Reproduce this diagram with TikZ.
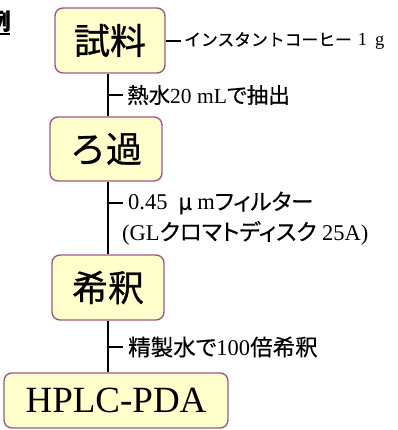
\documentclass[tikz,border=0pt]{standalone}
\usepackage{fontspec}
\setmainfont{Liberation Serif}
\newfontfamily\jp{Noto Sans CJK JP}[FakeBold=0.4,RawFeature=+palt]
\newfontfamily\jpfw{Noto Sans CJK JP}[FakeBold=0.6]
\newfontfamily\jpbig{Noto Sans CJK JP}[FakeBold=0.8]
\definecolor{boxfill}{HTML}{FFFFCC}
\definecolor{boxborder}{HTML}{9E5A86}
\begin{document}
\begin{tikzpicture}[x=1pt,y=-1pt,
  stepbox/.style={draw=boxborder, line width=1.4pt, fill=boxfill, rounded corners=8pt, inner sep=0pt},
  lab/.style={anchor=west, inner sep=0pt, font=\fontsize{21.5}{24}\selectfont},
  labb/.style={anchor=west, inner sep=0pt, font=\fontsize{22.5}{24}\selectfont},
  conn/.style={line width=1.2pt, black}]
\useasboundingbox (0,0) rectangle (397,430);
\clip (0,0) rectangle (397,430);
% partial heading at top-left
\node[anchor=east, inner sep=0pt, font=\jp\bfseries\fontsize{23}{25}\selectfont] (hd) at (11,21) {例};
\draw[line width=1.5pt] (0,34) coordinate (u1) -- (10,34) coordinate (u2);
% boxes
\node[stepbox, minimum width=110pt, minimum height=65pt, font=\jpbig\fontsize{36}{40}\selectfont] (b1) at (110,40.5) {試料};
\node[stepbox, minimum width=112pt, minimum height=64pt, font=\jpbig\fontsize{36}{40}\selectfont] (b2) at (106,149) {ろ過};
\node[stepbox, minimum width=112pt, minimum height=65pt, font=\jpbig\fontsize{36}{40}\selectfont] (b3) at (108,287.5) {希釈};
\node[stepbox, minimum width=224pt, minimum height=55pt, font=\fontsize{37}{40}\selectfont] (b4) at (116,400.5) {HPLC-PDA};
% spine
\coordinate (sp) at (108,0);
\draw[conn] (b1.south -| sp) -- (b2.north -| sp);
\draw[conn] (b2.south -| sp) -- (b3.north -| sp);
\draw[conn] (b3.south -| sp) -- (b4.north -| sp);
% labels
\node[anchor=west, inner sep=0pt, font=\fontsize{18.5}{20}\selectfont] (l0) at (184,41) {{\jpfw\fontsize{16.8}{20}\selectfont インスタントコーヒー}\hspace{6pt}1\hspace{8pt}g};
\coordinate (t0e) at (181,41);
\draw[conn] (b1.east |- t0e) -- (t0e);

\coordinate (t1) at (108,95);
\coordinate (t1e) at (123,95);
\node[lab] (l1) at (127,95) {{\jp 熱水}20 mL{\jp で抽出}};
\draw[conn] (t1) -- (t1e);

\coordinate (t2) at (108,203);
\coordinate (t2e) at (123,203);
\node[labb] (l2) at (128,203) {0.45 {\jp \ μ\ }m{\jp フィルター}};
\node[labb] (l2b) at (122,233) {(GL{\jp クロマトディスク} 25A)};
\draw[conn] (t2) -- (t2e);

\coordinate (t3) at (108,347);
\coordinate (t3e) at (123,347);
\node[labb] (l3) at (128,347) {{\jp 精製水で}100{\jp 倍希釈}};
\draw[conn] (t3) -- (t3e);
\end{tikzpicture}
\end{document}
